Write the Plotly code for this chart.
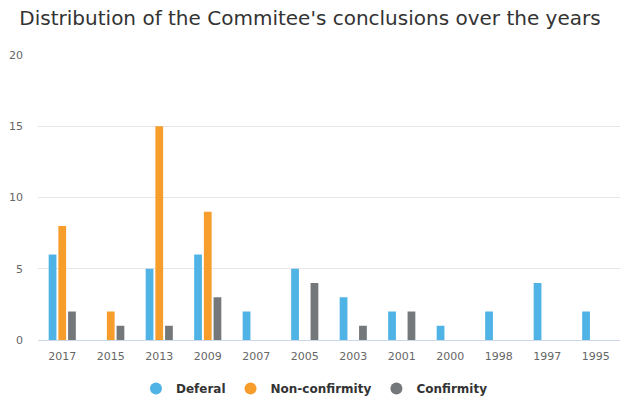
import plotly.graph_objects as go

years = ["2017", "2015", "2013", "2009", "2007", "2005", "2003", "2001", "2000", "1998", "1997", "1995"]
deferal = [6, 0, 5, 6, 2, 5, 3, 2, 1, 2, 4, 2]
non_confirmity = [8, 2, 15, 9, 0, 0, 0, 0, 0, 0, 0, 0]
confirmity = [2, 1, 1, 3, 0, 4, 1, 2, 0, 0, 0, 0]

series = [
    ("Deferal", deferal, "#4fb3e5"),
    ("Non-confirmity", non_confirmity, "#f79d2b"),
    ("Confirmity", confirmity, "#75787b"),
]

fig = go.Figure()
for name, vals, col in series:
    fig.add_trace(go.Bar(x=years, y=vals, name=name, showlegend=False,
                         marker=dict(color=col, line=dict(width=0))))
for name, vals, col in series:
    fig.add_trace(go.Scatter(x=[None], y=[None], mode="markers", name=name,
                             marker=dict(color=col, size=11, symbol="circle")))

fig.update_layout(
    width=620, height=403,
    paper_bgcolor="white", plot_bgcolor="white",
    margin=dict(l=38, r=0, t=55, b=62),
    font=dict(family="DejaVu Sans", color="#666666", size=11),
    title=dict(text="Distribution of the Commitee's conclusions over the years",
               x=0.5, xanchor="center", y=0.955, yanchor="middle",
               font=dict(size=20, color="#333333", family="DejaVu Sans")),
    barmode="group", bargap=0.4, bargroupgap=0.2,
    showlegend=True,
    legend=dict(orientation="h", x=0.475, xanchor="center", y=-0.118, yanchor="top",
                font=dict(size=12, color="#333333", family="DejaVu Sans", weight="bold"),
                itemsizing="constant"),
    xaxis=dict(type="category", showgrid=False, showline=True, linecolor="#ccd6eb", linewidth=1,
               ticks="", automargin=False, ticklabelstandoff=6,
               tickfont=dict(size=11, color="#666666")),
    yaxis=dict(range=[0, 20], dtick=5, showgrid=True, gridcolor="#e6e6e6", gridwidth=1,
               zeroline=False, ticks="", automargin=False, ticklabelstandoff=14,
               tickfont=dict(size=11, color="#666666")),
)

fig.write_html("out.html", config={"displayModeBar": False},
               post_script="document.body.style.margin='0';")
